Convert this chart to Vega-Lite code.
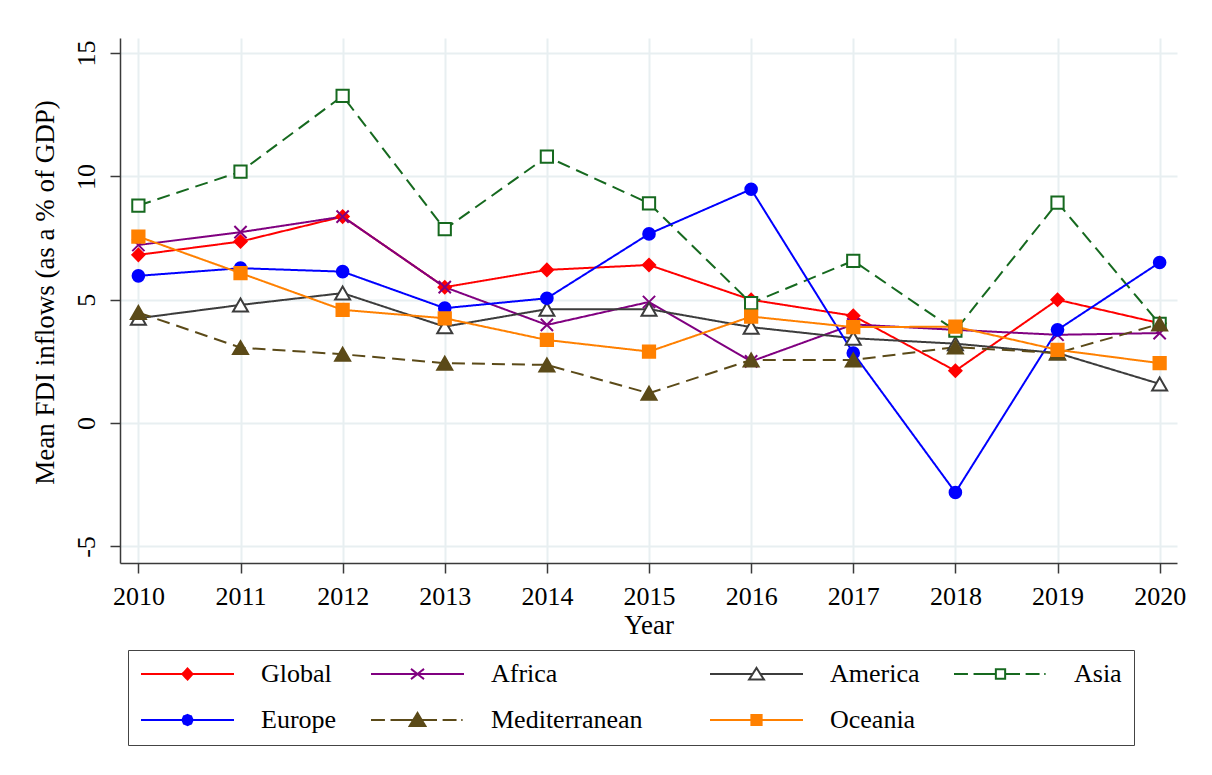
{
  "$schema": "https://vega.github.io/schema/vega-lite/v6.json",
  "width": 1057,
  "height": 525,
  "autosize": {"type": "none"},
  "padding": {"left": 120, "top": 38, "right": 35, "bottom": 212},
  "background": "white",
  "config": {
    "view": {"stroke": null},
    "font": "Liberation Serif",
    "axis": {
      "labelFont": "Liberation Serif",
      "titleFont": "Liberation Serif",
      "labelFontSize": 26,
      "titleFontSize": 27,
      "titleFontWeight": "normal",
      "labelColor": "#000000",
      "titleColor": "#000000",
      "gridColor": "#e8eff1",
      "gridWidth": 2,
      "domainColor": "#3a3a3a",
      "domainWidth": 1.5,
      "tickColor": "#3a3a3a",
      "tickWidth": 1.5,
      "tickSize": 10,
      "labelFlush": false,
      "labelOverlap": false
    }
  },
  "data": {
    "values": [
      {"year": 2010, "series": "Global", "value": 6.82},
      {"year": 2011, "series": "Global", "value": 7.36},
      {"year": 2012, "series": "Global", "value": 8.37},
      {"year": 2013, "series": "Global", "value": 5.51},
      {"year": 2014, "series": "Global", "value": 6.21},
      {"year": 2015, "series": "Global", "value": 6.41},
      {"year": 2016, "series": "Global", "value": 5.0},
      {"year": 2017, "series": "Global", "value": 4.35},
      {"year": 2018, "series": "Global", "value": 2.12},
      {"year": 2019, "series": "Global", "value": 5.0},
      {"year": 2020, "series": "Global", "value": 4.05},
      {"year": 2010, "series": "Africa", "value": 7.22},
      {"year": 2011, "series": "Africa", "value": 7.74},
      {"year": 2012, "series": "Africa", "value": 8.37},
      {"year": 2013, "series": "Africa", "value": 5.51},
      {"year": 2014, "series": "Africa", "value": 3.98},
      {"year": 2015, "series": "Africa", "value": 4.91},
      {"year": 2016, "series": "Africa", "value": 2.5},
      {"year": 2017, "series": "Africa", "value": 4.0},
      {"year": 2018, "series": "Africa", "value": 3.78},
      {"year": 2019, "series": "Africa", "value": 3.58},
      {"year": 2020, "series": "Africa", "value": 3.65},
      {"year": 2010, "series": "America", "value": 4.25},
      {"year": 2011, "series": "America", "value": 4.79},
      {"year": 2012, "series": "America", "value": 5.27},
      {"year": 2013, "series": "America", "value": 3.91},
      {"year": 2014, "series": "America", "value": 4.62},
      {"year": 2015, "series": "America", "value": 4.62},
      {"year": 2016, "series": "America", "value": 3.89},
      {"year": 2017, "series": "America", "value": 3.44},
      {"year": 2018, "series": "America", "value": 3.22},
      {"year": 2019, "series": "America", "value": 2.84},
      {"year": 2020, "series": "America", "value": 1.59},
      {"year": 2010, "series": "Asia", "value": 8.82},
      {"year": 2011, "series": "Asia", "value": 10.19},
      {"year": 2012, "series": "Asia", "value": 13.26},
      {"year": 2013, "series": "Asia", "value": 7.86},
      {"year": 2014, "series": "Asia", "value": 10.8},
      {"year": 2015, "series": "Asia", "value": 8.91},
      {"year": 2016, "series": "Asia", "value": 4.86},
      {"year": 2017, "series": "Asia", "value": 6.58},
      {"year": 2018, "series": "Asia", "value": 3.75},
      {"year": 2019, "series": "Asia", "value": 8.94},
      {"year": 2020, "series": "Asia", "value": 4.02},
      {"year": 2010, "series": "Europe", "value": 5.97},
      {"year": 2011, "series": "Europe", "value": 6.28},
      {"year": 2012, "series": "Europe", "value": 6.14},
      {"year": 2013, "series": "Europe", "value": 4.66},
      {"year": 2014, "series": "Europe", "value": 5.06},
      {"year": 2015, "series": "Europe", "value": 7.67},
      {"year": 2016, "series": "Europe", "value": 9.48},
      {"year": 2017, "series": "Europe", "value": 2.84},
      {"year": 2018, "series": "Europe", "value": -2.81},
      {"year": 2019, "series": "Europe", "value": 3.78},
      {"year": 2020, "series": "Europe", "value": 6.51},
      {"year": 2010, "series": "Mediterranean", "value": 4.48},
      {"year": 2011, "series": "Mediterranean", "value": 3.06},
      {"year": 2012, "series": "Mediterranean", "value": 2.79},
      {"year": 2013, "series": "Mediterranean", "value": 2.43},
      {"year": 2014, "series": "Mediterranean", "value": 2.36},
      {"year": 2015, "series": "Mediterranean", "value": 1.21},
      {"year": 2016, "series": "Mediterranean", "value": 2.56},
      {"year": 2017, "series": "Mediterranean", "value": 2.56},
      {"year": 2018, "series": "Mediterranean", "value": 3.08},
      {"year": 2019, "series": "Mediterranean", "value": 2.84},
      {"year": 2020, "series": "Mediterranean", "value": 4.02},
      {"year": 2010, "series": "Oceania", "value": 7.56},
      {"year": 2011, "series": "Oceania", "value": 6.08},
      {"year": 2012, "series": "Oceania", "value": 4.59},
      {"year": 2013, "series": "Oceania", "value": 4.25},
      {"year": 2014, "series": "Oceania", "value": 3.37},
      {"year": 2015, "series": "Oceania", "value": 2.9},
      {"year": 2016, "series": "Oceania", "value": 4.32},
      {"year": 2017, "series": "Oceania", "value": 3.89},
      {"year": 2018, "series": "Oceania", "value": 3.91},
      {"year": 2019, "series": "Oceania", "value": 2.97},
      {"year": 2020, "series": "Oceania", "value": 2.43}
    ]
  },
  "encoding": {
    "x": {
      "field": "year",
      "type": "quantitative",
      "scale": {"domain": [2009.82, 2020.17], "nice": false, "zero": false},
      "axis": {
        "values": [2010, 2011, 2012, 2013, 2014, 2015, 2016, 2017, 2018, 2019, 2020],
        "format": "d",
        "title": "Year",
        "grid": true,
        "labelBaseline": "alphabetic",
        "labelPadding": 31,
        "titleBaseline": "alphabetic",
        "titleY": 70
      }
    },
    "y": {
      "field": "value",
      "type": "quantitative",
      "scale": {"domain": [-5.67, 15.61], "nice": false, "zero": false},
      "axis": {
        "values": [-5, 0, 5, 10, 15],
        "labelExpr": "'' + datum.value",
        "title": "Mean FDI inflows (as a % of GDP)",
        "grid": true,
        "labelAngle": 270,
        "labelAlign": "center",
        "labelBaseline": "alphabetic",
        "labelPadding": 16,
        "titleAngle": 270,
        "titleX": -75,
        "titleY": 254,
        "titleAlign": "center",
        "titleBaseline": "middle"
      }
    }
  },
  "layer": [
    {
      "mark": {"type": "line", "strokeWidth": 2},
      "encoding": {
        "stroke": {
          "field": "series",
          "type": "nominal",
          "scale": {
            "domain": ["Global", "Africa", "America", "Asia", "Europe", "Mediterranean", "Oceania"],
            "range": ["#ff0000", "#800080", "#3c3c3c", "#16691f", "#0000ff", "#5b4a18", "#ff8000"]
          },
          "legend": {
            "title": null,
            "orient": "none",
            "legendX": 8,
            "legendY": 612,
            "direction": "horizontal",
            "columns": 4,
            "symbolSize": 8649,
            "symbolStrokeWidth": 2,
            "symbolOffset": 0,
            "labelFont": "Liberation Serif",
            "labelFontSize": 26,
            "labelColor": "#000000",
            "labelOffset": 26,
            "labelLimit": 400,
            "labelExpr": "datum.label === 'Mediterranean' ? 'Mediterranean\u00a0\u00a0\u00a0\u00a0\u00a0\u200b' : datum.label",
            "clipHeight": 24,
            "rowPadding": 20,
            "columnPadding": 33,
            "padding": 12,
            "strokeColor": "#444444",
            "encode": {
              "symbols": {
                "update": {
                  "shape": {"signal": "datum.value === 'Global' ? 'M-1,0L1,0M0,-0.12L0.11,0L0,0.12L-0.11,0Z' : datum.value === 'Africa' ? 'M-1,0L1,0M-0.14,-0.11L0.14,0.11M-0.14,0.11L0.14,-0.11' : datum.value === 'America' ? 'M-1,0L-0.08,0M0.08,0L1,0M0,-0.13L0.16,0.12L-0.16,0.12Z' : datum.value === 'Asia' ? 'M-1,0L-0.7,0M-0.58,0L-0.1,0M0.1,0L0.42,0M0.54,0L0.84,0M0.94,0L0.97,0M-0.1,-0.1L0.1,-0.1L0.1,0.1L-0.1,0.1Z' : datum.value === 'Europe' ? 'M-1,0L1,0M0.11,0L0.078,0.078L0,0.11L-0.078,0.078L-0.11,0L-0.078,-0.078L0,-0.11L0.078,-0.078Z' : datum.value === 'Mediterranean' ? 'M-1,0L-0.7,0M-0.58,0L0.42,0M0.54,0L0.84,0M0.94,0L0.97,0M0,-0.15L0.17,0.13L-0.17,0.13Z' : 'M-1,0L1,0M-0.11,-0.11L0.11,-0.11L0.11,0.11L-0.11,0.11Z'"},
                  "fill": {"scale": "fill", "field": "value"},
                  "stroke": {"scale": "stroke", "field": "value"},
                  "strokeDash": {"value": [1, 0]},
                  "strokeWidth": {"value": 2},
                  "opacity": {"value": 1}
                }
              }
            }
          }
        },
        "strokeDash": {
          "field": "series",
          "type": "nominal",
          "scale": {
            "domain": ["Africa", "America", "Asia", "Europe", "Global", "Mediterranean", "Oceania"],
            "range": [[1, 0], [1, 0], [13, 7], [1, 0], [1, 0], [13, 7], [1, 0]]
          },
          "legend": null
        }
      }
    },
    {
      "mark": {"type": "point", "filled": true, "strokeWidth": 2, "opacity": 1},
      "encoding": {
        "stroke": {"field": "series", "type": "nominal", "legend": null},
        "fill": {
          "field": "series",
          "type": "nominal",
          "scale": {
            "domain": ["Africa", "America", "Asia", "Europe", "Global", "Mediterranean", "Oceania"],
            "range": ["#800080", "#ffffff", "#ffffff", "#0000ff", "#ff0000", "#5b4a18", "#ff8000"]
          },
          "legend": null
        },
        "shape": {
          "field": "series",
          "type": "nominal",
          "scale": {
            "domain": ["Africa", "America", "Asia", "Europe", "Global", "Mediterranean", "Oceania"],
            "range": ["M-1,-1L1,1M-1,1L1,-1", "triangle-up", "square", "circle", "diamond", "triangle-up", "square"]
          },
          "legend": null
        },
        "size": {
          "condition": [
            {"test": "datum.series === 'America' || datum.series === 'Mediterranean'", "value": 225},
            {"test": "datum.series === 'Europe'", "value": 135}
          ],
          "value": 150
        }
      }
    }
  ]
}
